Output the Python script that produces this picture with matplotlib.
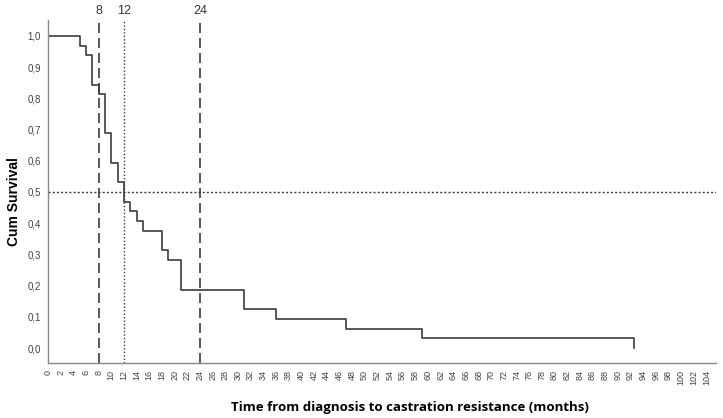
import matplotlib.pyplot as plt
import numpy as np

# Kaplan-Meier steps
event_times = [0, 5, 6, 7, 8, 9, 10, 11, 12, 13, 14, 15, 18, 19, 21, 31, 36, 47, 59, 92.5]
survival = [1.0, 0.969, 0.9375, 0.844, 0.8125, 0.6875, 0.594, 0.531, 0.469, 0.4375,
            0.406, 0.375, 0.3125, 0.281, 0.1875, 0.125, 0.094, 0.0625, 0.031, 0.0]

x_ticks = list(range(0, 105, 2))
y_ticks = [0.0, 0.1, 0.2, 0.3, 0.4, 0.5, 0.6, 0.7, 0.8, 0.9, 1.0]
y_labels = ['{:.1f}'.format(v).replace('.', ',') for v in y_ticks]

dashed_marks = [8, 24]
dotted_marks = [12]
median_level = 0.5

plt.rcParams['font.family'] = ['Liberation Sans', 'DejaVu Sans']

fig = plt.figure(figsize=(7.23, 4.18), dpi=100)
ax = fig.add_axes([48 / 723, 1 - 363 / 418, (716 - 48) / 723, (363 - 20) / 418])

ax.step(event_times, survival, where='post', color='#3c3c3c', lw=1.2)

ax.axhline(median_level, color='#3c3c3c', ls=(0, (1.5, 1.5)), lw=1.0)
for m in dashed_marks:
    ax.axvline(m, color='#3c3c3c', ls=(0, (6, 3)), lw=1.2)
for m in dotted_marks:
    ax.axvline(m, color='#3c3c3c', ls=(0, (1, 1.5)), lw=1.0)
for m in dashed_marks + dotted_marks:
    ax.text(m, 1.01, str(m), transform=ax.get_xaxis_transform(),
            ha='center', va='bottom', fontsize=9, color='#333333')

ax.set_xlim(0, 105.5)
ax.set_ylim(-0.048, 1.051)
ax.set_xticks(x_ticks)
ax.set_xticklabels([str(t) for t in x_ticks], rotation=90, fontsize=6.5, color='#444444')
ax.set_yticks(y_ticks)
ax.set_yticklabels(y_labels, fontsize=7, color='#444444')
ax.tick_params(axis='both', length=0, pad=5)

for s in ['top', 'right']:
    ax.spines[s].set_visible(False)
for s in ['left', 'bottom']:
    ax.spines[s].set_color('#888888')
    ax.spines[s].set_linewidth(1.0)

fig.text(14 / 723, 1 - 202 / 418, 'Cum Survival', rotation=90,
         ha='center', va='center', fontsize=10, fontweight='bold')
fig.text(410 / 723, 1 - 407 / 418, 'Time from diagnosis to castration resistance (months)',
         ha='center', va='center', fontsize=9.5, fontweight='bold', family=['Open Sans', 'DejaVu Sans'])

fig.savefig('out.png', dpi=100)
